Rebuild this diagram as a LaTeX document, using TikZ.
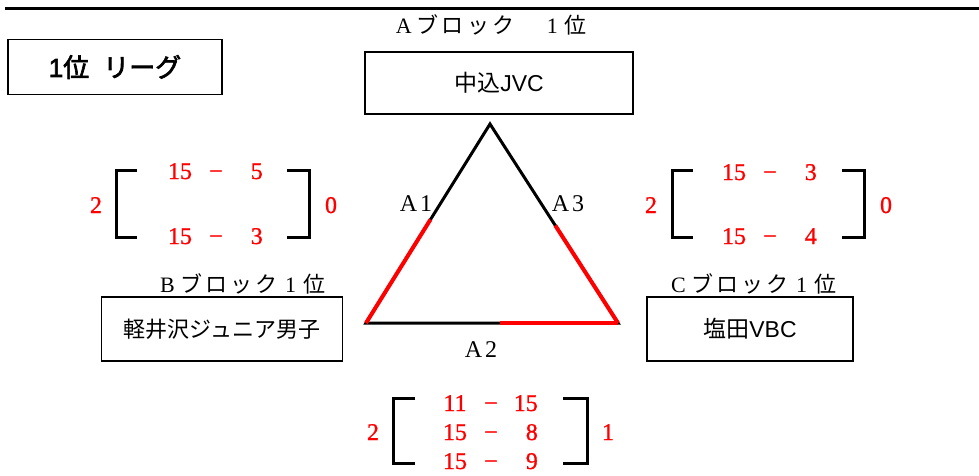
\documentclass[tikz,border=0pt]{standalone}
\usepackage{fontspec}
\setmainfont{Liberation Serif}
\newfontfamily\jp{Noto Sans CJK JP}
\newfontfamily\lsans{Liberation Sans}
\newfontfamily\jpsp[LetterSpace=15]{Noto Sans CJK JP}
\newfontfamily\jpbf[FakeBold=2.5]{Noto Sans CJK JP}
\newfontfamily\lsbf[FakeBold=2.5]{Liberation Sans}
\newfontfamily\digitsfont[FakeBold=1]{Liberation Serif}
\newcommand\fw[1]{\makebox[1.15em]{\rmfamily #1}}
\usetikzlibrary{calc}
\tikzstyle{team}=[draw,line width=1.2pt,inner sep=0pt,font=\jp\fontsize{23}{27}\selectfont]
\tikzstyle{block}=[inner sep=0pt,font=\jpsp\fontsize{22}{26}\selectfont]
\tikzstyle{side}=[inner sep=0pt,font=\rmfamily\fontsize{24}{28}\selectfont]
\tikzstyle{score}=[text=red,inner sep=0pt,text height=16pt,text depth=0pt,
                   font=\digitsfont\fontsize{24}{28}\selectfont]
\tikzstyle{brk}=[line width=3pt]

\begin{document}
\begin{tikzpicture}[x=1pt,y=-1pt]
  \useasboundingbox (0,0) rectangle (979,475);
  \draw[line width=3pt] (5,8) -- (979,8);
  % title
  \node[draw,line width=1.2pt,minimum width=214pt,minimum height=55pt,inner sep=0pt,
        font=\jpbf\fontsize{26}{30}\selectfont] (title) at (115,67)
        {{\lsbf 1}位\hspace{14pt}リーグ};
  % teams
  \node[team,minimum width=268pt,minimum height=62pt] (A) at (499,83) {中込{\lsans JVC}};
  \node[team,minimum width=241pt,minimum height=64pt] (B) at (222,329) {\fontsize{22}{26}\selectfont 軽井沢ジュニア男子};
  \node[team,minimum width=206pt,minimum height=64pt] (C) at (750,329) {塩田{\lsans VBC}};
  \node[block] (A-lab) at (489,25) {\fw{A}ブロック　\fw{1}位};
  \node[block] (B-lab) at (240,284) {\fw{B}ブロック\fw{1}位};
  \node[block] (C-lab) at (751,284) {\fw{C}ブロック\fw{1}位};
  % triangle
  \coordinate (top) at (490,124);
  \coordinate (bl) at (366,323);
  \coordinate (br) at (618,323);
  \draw[line width=3pt,line join=miter] (top) -- (bl) -- (br) -- cycle;
  \draw[red,line width=4pt] (bl) -- ($(bl)!0.52!(top)$);
  \draw[red,line width=4pt] (br) -- ($(br)!0.49!(top)$);
  \draw[red,line width=4pt] ($(bl)!0.53!(br)$) -- (br);
  \node[side] (A1) at (416,204) {A\hspace{3pt}1};
  \node[side] (A3) at (568,204) {A\hspace{3pt}3};
  \node[side] (A2) at (481,350) {A\hspace{3pt}2};
  % scores
  \foreach \n/\x/\y/\a/\b in {l1/180/171/15/5, l2/180/236/15/3, r1/734/172/15/3,
                              r2/734/236/15/4, b1/455/403/11/15, b2/455/432/15/8,
                              b3/455/461/15/9}
  {
    \node[score] (\n-a) at (\x,\y) {\a};
    \node[score] (\n-d) at (\x+36,\y) {−};
    \node[score,anchor=east] (\n-b) at (\x+83,\y) {\b};
  }
  \foreach \n/\x/\y/\w in {lw/96/205/2, ll/331/205/0, rw/651/205/2, rl/886/205/0,
                           bw/373/432/2, bl/608/432/1}
    \node[score] (\n) at (\x,\y) {\w};
  % brackets
  \draw[brk] (137,170) -| (116,237) -- (137,237);
  \draw[brk] (287,170) -| (309,237) -- (287,237);
  \draw[brk] (693,170) -| (672,237) -- (693,237);
  \draw[brk] (842,170) -| (864,237) -- (842,237);
  \draw[brk] (415,398) -| (393,463) -- (415,463);
  \draw[brk] (563,398) -| (587,463) -- (563,463);
\end{tikzpicture}
\end{document}
